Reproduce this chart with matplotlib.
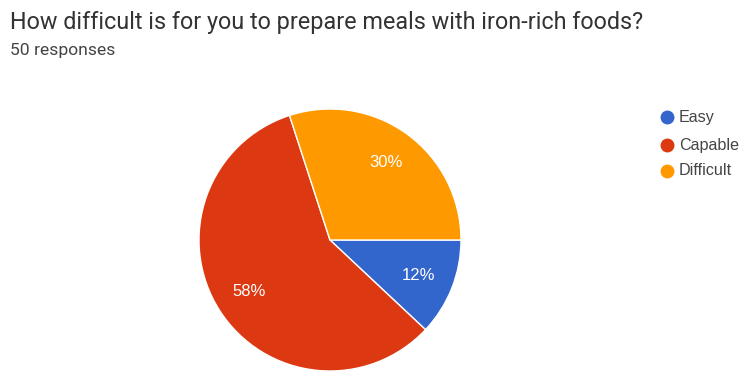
import matplotlib.pyplot as plt
from matplotlib.lines import Line2D

labels = ["Easy", "Capable", "Difficult"]
shares = [12, 58, 30]
colors = ["#3366CC", "#DC3912", "#FF9900"]

title = "How difficult is for you to prepare meals with iron-rich foods?"
subtitle = "50 responses"

fig = plt.figure(figsize=(7.44, 3.71), dpi=100)
fig.patch.set_facecolor("white")

# pie axes: centre at ~ (330, 240) px, radius ~130 px
ax = fig.add_axes([(330 - 131) / 744, (371 - 240 - 131) / 371, 262 / 744, 262 / 371])
wedges, texts, autotexts = ax.pie(
    shares, colors=colors, startangle=0, counterclock=False,
    autopct="%d%%", pctdistance=0.73, radius=1.0,
    wedgeprops=dict(edgecolor="white", linewidth=1),
    textprops=dict(color="white", fontsize=12, family="Liberation Sans"),
)
ax.set_xlim(-1, 1)
ax.set_ylim(-1, 1)
ax.set_aspect("equal")
ax.axis("off")

fig.text(10 / 744, 1 - 22 / 371, title, fontsize=16.8, color="#333333",
         family="Roboto", va="center", ha="left")
fig.text(10 / 744, 1 - 51 / 371, subtitle, fontsize=12.6, color="#444444",
         family="Roboto", va="center", ha="left")

# legend entries: coloured dot plus label
legend_y = [117, 145, 171]
for lab, c, y in zip(labels, colors, legend_y):
    fig.add_artist(Line2D([667 / 744], [1 - y / 371], marker="o", markersize=9,
                          markerfacecolor=c, markeredgecolor=c, linestyle="",
                          transform=fig.transFigure))
    fig.text(679 / 744, 1 - y / 371, lab, fontsize=11.6, color="#444444",
             family="Liberation Sans", va="center", ha="left")

fig.savefig("out.png", dpi=100)
